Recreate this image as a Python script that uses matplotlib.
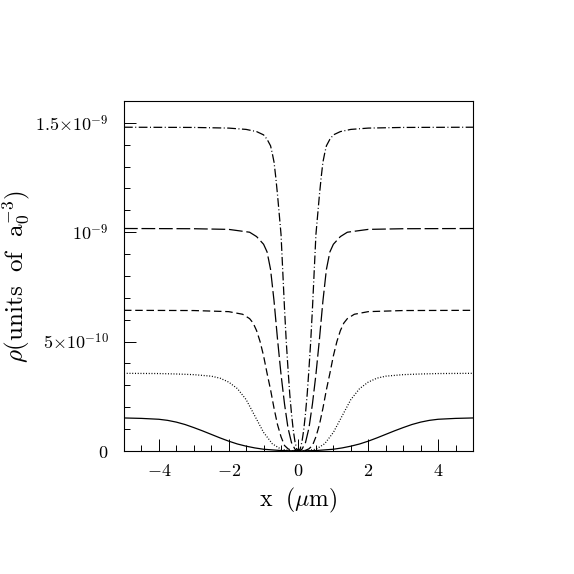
import numpy as np
import matplotlib
matplotlib.use('Agg')
import matplotlib.pyplot as plt

plt.rcParams['mathtext.fontset'] = 'cm'

# density profiles (x in um, rho in units of 1e-10)
x_solid = [0, 0.5, 1.0, 1.25, 1.5, 1.75, 2.0, 2.25, 2.5, 2.75, 3.0, 3.25, 3.5, 3.75, 4.0, 4.5, 5.0]
rho_solid = [0, 0.02, 0.08, 0.14, 0.22, 0.32, 0.45, 0.60, 0.76, 0.92, 1.07, 1.21, 1.32, 1.40, 1.45, 1.49, 1.51]

x_dot = [0, 0.25, 0.5, 0.75, 1.0, 1.25, 1.5, 1.75, 2.0, 2.25, 2.5, 3.0, 3.5, 4.0, 5.0]
rho_dot = [0, 0.02, 0.08, 0.33, 0.85, 1.6, 2.35, 2.85, 3.15, 3.33, 3.42, 3.49, 3.52, 3.54, 3.55]

x_dash = [0, 0.2, 0.3, 0.4, 0.5, 0.6, 0.7, 0.8, 0.9, 1.0, 1.1, 1.2, 1.3, 1.4, 1.6, 2.0, 3.0, 5.0]
rho_dash = [0, 0.03, 0.1, 0.25, 0.65, 1.2, 1.95, 2.8, 3.55, 4.35, 5.0, 5.5, 5.85, 6.05, 6.25, 6.37, 6.42, 6.43]

x_long = [0, 0.1, 0.2, 0.3, 0.4, 0.5, 0.6, 0.7, 0.8, 0.9, 1.0, 1.2, 1.4, 2.0, 3.0, 5.0]
rho_long = [0, 0.08, 0.38, 1.05, 2.15, 3.5, 5.1, 6.85, 8.3, 9.1, 9.45, 9.8, 10.0, 10.13, 10.16, 10.17]

x_dd = [0, 0.05, 0.1, 0.15, 0.2, 0.25, 0.3, 0.35, 0.4, 0.45, 0.5, 0.55, 0.6, 0.65,
        0.7, 0.75, 0.8, 0.9, 1.0, 1.2, 1.5, 2.0, 3.0, 5.0]
rho_dd = [0, 0.1, 0.42, 0.96, 1.7, 2.6, 3.75, 5.0, 6.5, 8.2, 9.9, 10.8, 11.7, 12.5,
          13.2, 13.6, 13.95, 14.25, 14.45, 14.6, 14.7, 14.76, 14.79, 14.8]

ytick_vals = [0, 5e-10, 1e-9, 1.5e-9]
ytick_labels = ['$0$', r'$5{\times}10^{-10}$', r'$10^{-9}$', r'$1.5{\times}10^{-9}$']
xtick_vals = [-4, -2, 0, 2, 4]
xtick_labels = ['$-4$', '$-2$', '$0$', '$2$', '$4$']


def mirror(x, r):
    # profiles are symmetric about x = 0
    x = np.asarray(x, float)
    r = np.asarray(r, float) * 1e-10
    return np.concatenate([-x[::-1], x[1:]]), np.concatenate([r[::-1], r[1:]])


fig = plt.figure(figsize=(5.74, 5.74), dpi=100)
ax = fig.add_axes([0.216, 0.2143, 0.608, 0.6098])

styles = [
    (x_solid, rho_solid, '-'),
    (x_dot, rho_dot, (0, (0.8, 1.4))),
    (x_dash, rho_dash, (0, (6, 3))),
    (x_long, rho_long, (0, (11, 3))),
    (x_dd, rho_dd, (0, (7, 2, 0.8, 2))),
]
for xs, rs, ls in styles:
    xx, rr = mirror(xs, rs)
    ax.plot(xx, rr, color='k', lw=0.9, ls=ls)

ax.set_xlim(-5, 5)
ax.set_ylim(0, 1.6e-9)

ax.set_xticks(xtick_vals)
ax.set_xticklabels(xtick_labels, fontsize=13)
ax.set_xticks(np.arange(-5, 5.01, 0.5), minor=True)
ax.set_yticks(ytick_vals)
ax.set_yticklabels(ytick_labels, fontsize=13)
ax.set_yticks(np.arange(0, 1.61e-9, 1e-10), minor=True)

ax.tick_params(which='both', direction='in', top=False, right=False, width=0.7)
ax.tick_params(which='major', length=8.5)
ax.tick_params(which='minor', length=4.3)
ax.tick_params(axis='x', which='major', pad=8)
ax.tick_params(axis='y', which='major', pad=11)

for s in ax.spines.values():
    s.set_linewidth(0.8)

ax.set_xlabel(r'$\mathrm{x\ \ (}\mu\mathrm{m)}$', fontsize=17, labelpad=4)
ax.set_ylabel(r'$\rho(\mathrm{units\ \ of\ \ a}_0^{-3})$', fontsize=18, labelpad=2)

fig.savefig('out.png', dpi=100)
